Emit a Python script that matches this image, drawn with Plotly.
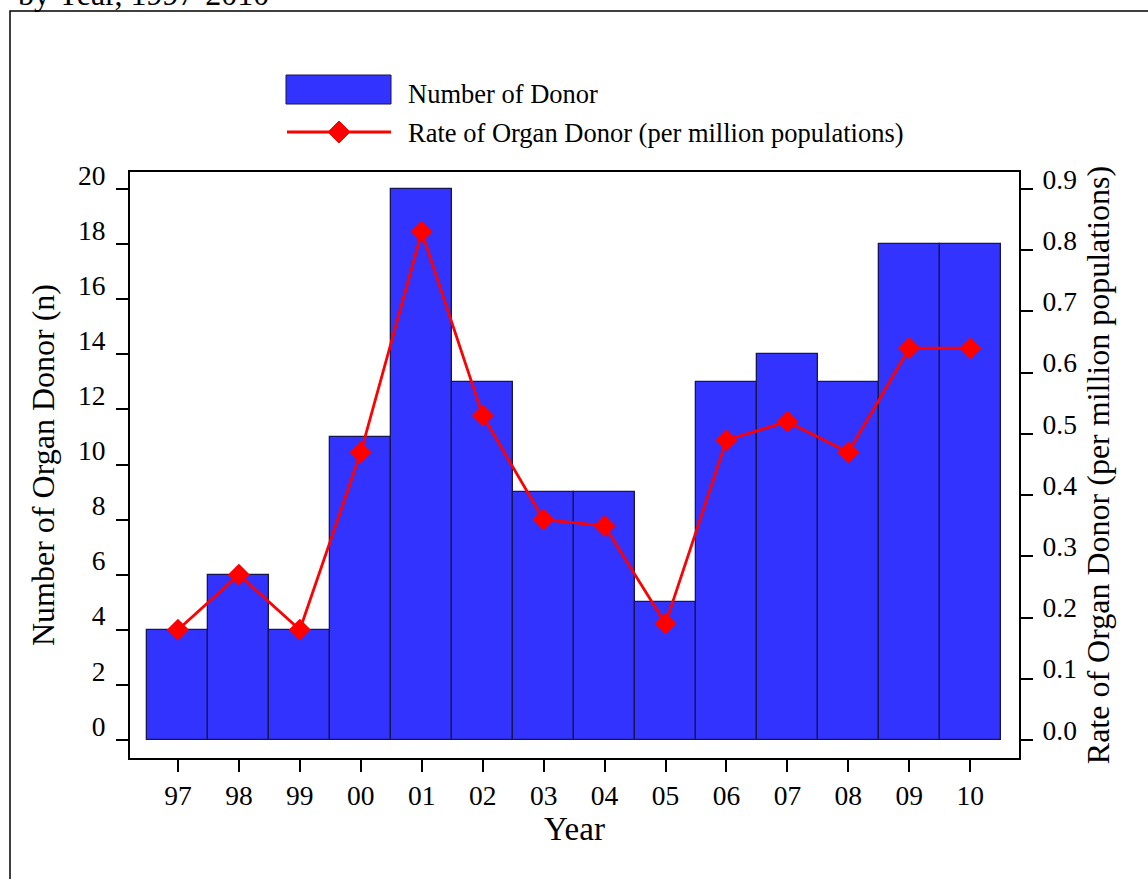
import plotly.graph_objects as go

years = ["97", "98", "99", "00", "01", "02", "03", "04", "05", "06", "07", "08", "09", "10"]
donors = [4, 6, 4, 11, 20, 13, 9, 9, 5, 13, 14, 13, 18, 18]
rates = [0.18, 0.27, 0.18, 0.47, 0.83, 0.53, 0.36, 0.35, 0.19, 0.49, 0.52, 0.47, 0.64, 0.64]
left_ticks = list(range(0, 21, 2))
right_ticks = [round(0.1 * i, 1) for i in range(10)]

xpos = list(range(len(years)))
FONT = "Liberation Serif, Times New Roman, serif"
BLUE = "#3333FF"
RED = "#FF0000"

fig = go.Figure()
fig.add_bar(
    x=xpos, y=donors, width=1,
    marker=dict(color=BLUE, line=dict(color="#161650", width=1.3)),
    name="Number of Donor", showlegend=False,
)
fig.add_scatter(
    x=xpos, y=rates, yaxis="y2", mode="lines+markers",
    line=dict(color=RED, width=2.8),
    marker=dict(symbol="diamond", size=17, color=RED),
    name="Rate of Organ Donor (per million populations)", showlegend=False,
)

W, H = 1148, 879
L, R, T, B = 130, 129, 172, 121
pw, ph = W - L - R, H - T - B

def px(x):
    return (x - L) / pw

def py(y):
    return (H - B - y) / ph

shapes = [
    # outer frame (partially off-page)
    dict(type="rect", xref="paper", yref="paper", x0=px(10), x1=px(1300), y0=py(11), y1=py(1000),
         line=dict(color="black", width=1.5), fillcolor="rgba(0,0,0,0)", layer="below"),
    # legend: bar swatch
    dict(type="rect", xref="paper", yref="paper", x0=px(286), x1=px(391), y0=py(104), y1=py(75),
         line=dict(color="#161650", width=1), fillcolor=BLUE),
    # legend: line
    dict(type="line", xref="paper", yref="paper", x0=px(287), x1=px(391), y0=py(132), y1=py(132),
         line=dict(color=RED, width=2.8)),
    # legend: diamond
    dict(type="path", xref="paper", yref="paper",
         path=f"M {px(328)},{py(132)} L {px(339)},{py(121)} L {px(350)},{py(132)} L {px(339)},{py(143)} Z",
         line=dict(color=RED, width=1), fillcolor=RED),
]

annotations = [
    dict(text="by Year, 1997-2010", xref="paper", yref="paper", x=px(16), y=py(14),
         xanchor="left", yanchor="bottom", showarrow=False, font=dict(size=32, color="black", family=FONT)),
    dict(text="Number of Donor", xref="paper", yref="paper", x=px(406), y=py(94),
         xanchor="left", yanchor="middle", showarrow=False, font=dict(size=26.5, color="black", family=FONT)),
    dict(text="Rate of Organ Donor (per million populations)", xref="paper", yref="paper", x=px(406), y=py(133),
         xanchor="left", yanchor="middle", showarrow=False, font=dict(size=26.5, color="black", family=FONT)),
]

TICKFONT = 27.5

fig.update_layout(
    width=W, height=H,
    margin=dict(l=L, r=R, t=T, b=B),
    paper_bgcolor="white", plot_bgcolor="white",
    font=dict(family=FONT, color="black", size=26),
    bargap=0,
    showlegend=False,
    shapes=shapes,
    annotations=annotations,
    xaxis=dict(
        range=[-0.787, 13.80], tickmode="array", tickvals=xpos, ticktext=years,
        showline=True, linecolor="black", linewidth=2, mirror=True,
        ticks="outside", ticklen=12, tickwidth=1.5, tickcolor="black",
        showgrid=False, zeroline=False, tickfont=dict(size=TICKFONT),
        title=dict(text="Year", font=dict(size=33), standoff=0),
    ),
    yaxis=dict(
        range=[-0.653, 20.617], tickmode="array", tickvals=left_ticks,
        showline=True, linecolor="black", linewidth=2,
        ticks="outside", ticklen=12, tickwidth=1.5, tickcolor="black",
        showgrid=False, zeroline=False, tickfont=dict(size=TICKFONT), ticklabelshift=-14,
        ticklabelstandoff=5,
        title=dict(text="Number of Organ Donor (n)", font=dict(size=32), standoff=14),
    ),
    yaxis2=dict(
        range=[-0.0294, 0.9278], tickmode="array", tickvals=right_ticks,
        tickformat=".1f", overlaying="y", side="right",
        showline=True, linecolor="black", linewidth=2,
        ticks="outside", ticklen=12, tickwidth=1.5, tickcolor="black",
        showgrid=False, zeroline=False, tickfont=dict(size=TICKFONT), ticklabelshift=-10,
        ticklabelstandoff=4,
        title=dict(text="Rate of Organ Donor (per million populations)", font=dict(size=32), standoff=10),
    ),
)

fig.write_html(
    "out.html",
    config={"displayModeBar": False},
    post_script="document.body.style.margin='0';document.body.style.overflow='hidden';",
)
